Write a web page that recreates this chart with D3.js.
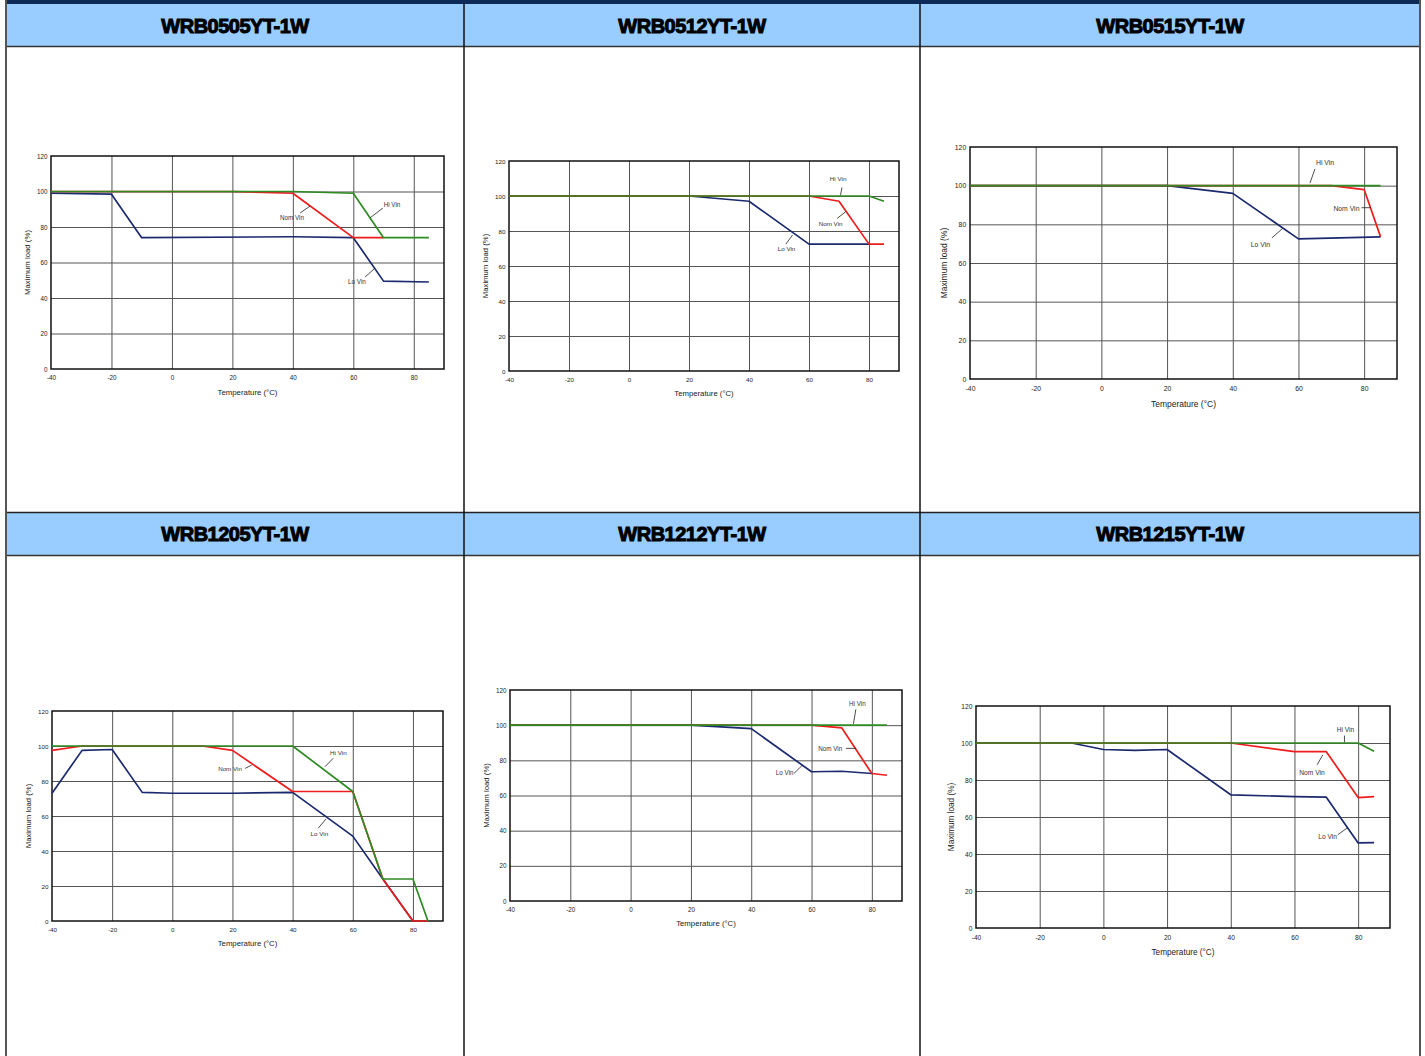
<!DOCTYPE html>
<html>
<head>
<meta charset="utf-8">
<style>
  body { margin: 0; background: #fff; }
  svg { display: block; }
  .tick text { font-family: "Liberation Sans Narrow", "Liberation Sans", Arial, sans-serif; fill: #1a1a1a; }
  .head { font-family: "Liberation Sans", Arial, sans-serif; font-weight: bold; }
</style>
</head>
<body>
<svg width="1425" height="1056"></svg>
<script src="https://cdn.jsdelivr.net/npm/d3@7"></script>
<script>
// derating curves, values (temperature degC, max load %)
var models = ["WRB0505YT-1W", "WRB0512YT-1W", "WRB0515YT-1W",
              "WRB1205YT-1W", "WRB1212YT-1W", "WRB1215YT-1W"];
var tempTicks = [-40, -20, 0, 20, 40, 60, 80];
var loadTicks = [0, 20, 40, 60, 80, 100, 120];
var seriesNames = ["Lo Vin", "Nom Vin", "Hi Vin"];

var wrb0505Lo  = [[-40, 99], [-20, 98.5], [-10, 74], [40, 74.5], [60, 74], [70, 49.5], [85, 49]];
var wrb0505Nom = [[-40, 100], [20, 100], [40, 99], [60, 74], [70, 74]];
var wrb0505Hi  = [[-40, 100], [40, 100], [60, 99], [70, 74], [85, 74]];

var wrb0512Lo  = [[-40, 100], [20, 100], [40, 97], [60, 72.5], [80, 72.5]];
var wrb0512Nom = [[-40, 100], [60, 100], [70, 97], [80, 72.5], [85, 72.5]];
var wrb0512Hi  = [[-40, 100], [80, 100], [85, 97]];

var wrb0515Lo  = [[-40, 100], [20, 100], [40, 96], [60, 72.5], [85, 73.5]];
var wrb0515Nom = [[-40, 100], [70, 100], [80, 98], [85, 73.5]];
var wrb0515Hi  = [[-40, 100], [85, 100]];

var wrb1205Lo  = [[-40, 73], [-30, 97.5], [-20, 98], [-10, 73.5], [0, 73], [20, 73], [40, 73.5], [60, 48.5], [70, 24], [80, 0]];
var wrb1205Nom = [[-40, 97.5], [-30, 100], [10, 100], [20, 97.5], [40, 74], [60, 74], [70, 24], [80, 0], [85, 0]];
var wrb1205Hi  = [[-40, 100], [40, 100], [60, 74], [70, 24], [80, 24], [85, 0]];

var wrb1212Lo  = [[-40, 100], [20, 100], [40, 98], [60, 73.5], [70, 73.8], [80, 72.5]];
var wrb1212Nom = [[-40, 100], [60, 100], [70, 98.5], [80, 72.5], [85, 71.5]];
var wrb1212Hi  = [[-40, 100], [85, 100]];

var wrb1215Lo  = [[-40, 100], [-10, 100], [0, 96.5], [10, 96], [20, 96.5], [40, 72], [60, 71], [70, 70.7], [80, 46], [85, 46.2]];
var wrb1215Nom = [[-40, 100], [40, 100], [60, 95.3], [70, 95.3], [80, 70.5], [85, 71]];
var wrb1215Hi  = [[-40, 100], [80, 100], [85, 95.5]];

// callout per series: label centre (t, load), leader from (t, load) to (t, load)
var wrb0505Notes = [[61.2, 49, 63.9, 51.8, 67.2, 56.9], [39.7, 85.1, 42.4, 87.9, 45.7, 91.8], [72.8, 92.4, 69.8, 90.7, 65.5, 85.1]];
var wrb0512Notes = [[52.5, 69.9, 52.3, 72.5, 54.5, 77.7], [67.2, 84, 69.4, 87.2, 72.2, 91], [69.7, 110, 71, 104.9, 70.5, 100.5]];
var wrb0515Notes = [[48.4, 69.6, 51.9, 73, 55.2, 77.9], [74.6, 88.2, 79.2, 88.6, 82.1, 88.6], [68.1, 111.7, 65, 108.6, 63.5, 101.3]];
var wrb1205Notes = [[48.9, 49.7, 48.5, 53, 51.1, 58.3], [19.2, 87.2, 24.2, 87.2, 26.4, 89.1], [55.2, 96.1, 53.5, 93, 50.8, 88.2]];
var wrb1212Notes = [[51.1, 73, 54.2, 72.6, 57, 77.3], [66.2, 86.8, 71.4, 86.8, 74.7, 86.8], [75.2, 112, 74.7, 109, 73.9, 100.7]];
var wrb1215Notes = [[70.4, 49.1, 73.6, 50.4, 76.5, 54], [65.5, 83.7, 67.1, 88.2, 68.9, 93.6], [76, 107.4, 75.7, 104, 75.7, 100.4]];

var curves = [
  [wrb0505Lo, wrb0505Nom, wrb0505Hi], [wrb0512Lo, wrb0512Nom, wrb0512Hi], [wrb0515Lo, wrb0515Nom, wrb0515Hi],
  [wrb1205Lo, wrb1205Nom, wrb1205Hi], [wrb1212Lo, wrb1212Nom, wrb1212Hi], [wrb1215Lo, wrb1215Nom, wrb1215Hi]
];
var notes = [wrb0505Notes, wrb0512Notes, wrb0515Notes, wrb1205Notes, wrb1212Notes, wrb1215Notes];

var colors = ["#1b2a6e", "#ee1c1c", "#2e8b22"];

// page table layout
var colX = [6, 464, 920, 1420];
var rows = [{head: 4, body: 47, end: 512}, {head: 512, body: 556, end: 1057}];

// plot boxes inside each cell (left, top, right, bottom)
var boxes = [
  [51, 156, 444, 369], [509, 161, 899, 371], [970, 147, 1397, 379],
  [52, 711, 443, 921], [510, 690, 902, 901], [976, 706, 1390, 928]
];

var svg = d3.select("svg");
var narrow = "'Liberation Sans Narrow', 'Liberation Sans', Arial, sans-serif";

// header cells
rows.forEach(function(r, ri) {
  svg.append("rect").attr("x", colX[0]).attr("y", r.head).attr("width", colX[3] - colX[0])
    .attr("height", r.body - r.head).attr("fill", "#99ccff");
  svg.append("line").attr("x1", colX[0]).attr("x2", colX[3]).attr("y1", r.body - 0.5).attr("y2", r.body - 0.5)
    .attr("stroke", "#333").attr("stroke-width", 1.5);
  if (ri > 0) {
    svg.append("line").attr("x1", colX[0]).attr("x2", colX[3]).attr("y1", r.head + 0.5).attr("y2", r.head + 0.5)
      .attr("stroke", "#222").attr("stroke-width", 1.5);
  }
  for (var c = 0; c < 3; c++) {
    svg.append("text").attr("class", "head")
      .attr("x", (colX[c] + colX[c + 1]) / 2).attr("y", (r.head + r.body) / 2 + 7)
      .attr("text-anchor", "middle").attr("font-size", 20)
      .attr("stroke", "#000").attr("stroke-width", 1).attr("letter-spacing", -0.5)
      .text(models[ri * 3 + c]);
  }
});

// top bar and vertical rules
svg.append("rect").attr("x", colX[0]).attr("y", 0).attr("width", colX[3] - colX[0]).attr("height", 4).attr("fill", "#0c2a58");
svg.append("line").attr("x1", colX[0]).attr("x2", colX[0]).attr("y1", 0).attr("y2", 1056).attr("stroke", "#555").attr("stroke-width", 2);
svg.append("line").attr("x1", colX[3]).attr("x2", colX[3]).attr("y1", 0).attr("y2", 1056).attr("stroke", "#555").attr("stroke-width", 2);
[colX[1], colX[2]].forEach(function(x) {
  svg.append("line").attr("x1", x).attr("x2", x).attr("y1", 4).attr("y2", 1056).attr("stroke", "#111").attr("stroke-width", 1.5);
});

// charts
boxes.forEach(function(b, i) {
  var w = b[2] - b[0], h = b[3] - b[1];
  var k = w / 393;
  var fs = 6.3 * k;
  var x = d3.scaleLinear().domain([-40, 90]).range([b[0], b[2]]);
  var y = d3.scaleLinear().domain([0, 120]).range([b[3], b[1]]);
  var g = svg.append("g");

  var xa = g.append("g").attr("transform", "translate(0," + b[3] + ")")
    .call(d3.axisBottom(x).tickValues(tempTicks).tickSize(-h).tickPadding(7 * k).tickFormat(String));
  var ya = g.append("g").attr("transform", "translate(" + b[0] + ",0)")
    .call(d3.axisLeft(y).tickValues(loadTicks).tickSize(-w).tickPadding(3.5 * k).tickFormat(String));
  [xa, ya].forEach(function(a) {
    a.select(".domain").remove();
    a.selectAll(".tick line").attr("stroke", "#555").attr("stroke-width", 1);
    a.selectAll(".tick text").attr("font-size", fs);
  });
  xa.selectAll(".tick line").filter(function(d) { return d === -40; }).remove();
  ya.selectAll(".tick line").filter(function(d) { return d === 0 || d === 120; }).remove();

  g.append("rect").attr("x", b[0]).attr("y", b[1]).attr("width", w).attr("height", h)
    .attr("fill", "none").attr("stroke", "#111").attr("stroke-width", 1.5);

  var line = d3.line().x(function(d) { return x(d[0]); }).y(function(d) { return y(d[1]); });
  curves[i].forEach(function(s, si) {
    g.append("path").datum(s).attr("d", line).attr("fill", "none")
      .attr("stroke", colors[si]).attr("stroke-width", 1.7).attr("stroke-linejoin", "round");
  });

  notes[i].forEach(function(n, si) {
    g.append("line").attr("x1", x(n[2])).attr("y1", y(n[3])).attr("x2", x(n[4])).attr("y2", y(n[5]))
      .attr("stroke", "#222").attr("stroke-width", 0.8);
    g.append("text").attr("x", x(n[0])).attr("y", y(n[1])).attr("dy", "0.35em")
      .attr("text-anchor", "middle").attr("font-size", fs)
      .attr("font-family", narrow)
      .attr("fill", "#333").text(seriesNames[si]);
  });

  g.append("text").attr("x", (b[0] + b[2]) / 2).attr("y", b[3] + 23.5 * k + 2)
    .attr("text-anchor", "middle").attr("font-size", 7.8 * k)
    .attr("font-family", narrow)
    .attr("fill", "#222").text("Temperature (°C)");
  g.append("text").attr("transform", "translate(" + (b[0] - 21 * k) + "," + ((b[1] + b[3]) / 2) + ") rotate(-90)")
    .attr("text-anchor", "middle").attr("font-size", 7.8 * k)
    .attr("font-family", narrow)
    .attr("fill", "#222").text("Maximum load (%)");
});
</script>
</body>
</html>
